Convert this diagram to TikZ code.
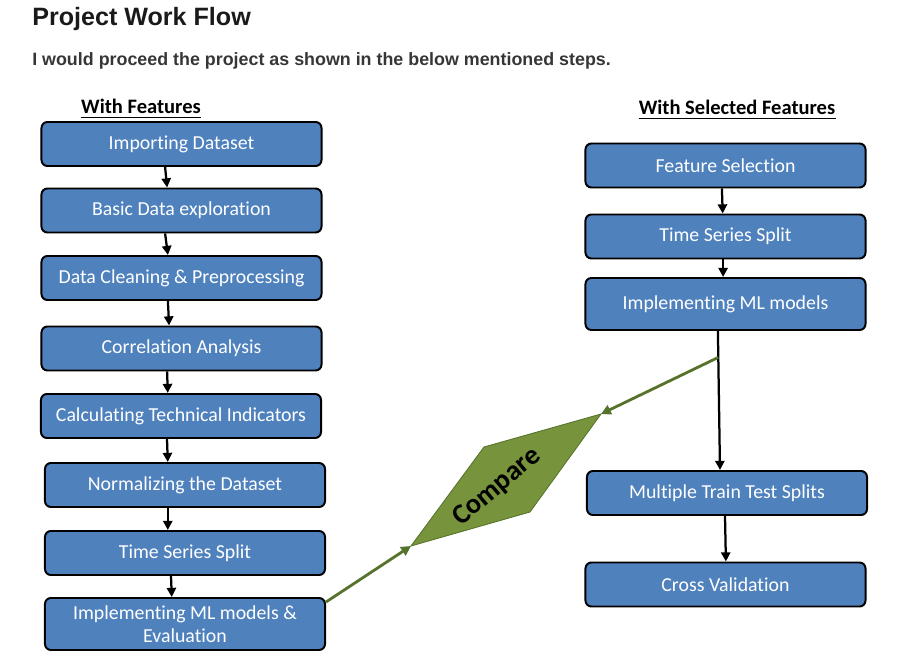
\documentclass[tikz,border=0pt]{standalone}
\usepackage{fontspec}
\usetikzlibrary{arrows.meta,calc}
\newfontfamily\boxfont{Carlito}[Ligatures=NoCommon]
\newfontfamily\headfont{Liberation Sans}
\definecolor{stepblue}{HTML}{4F81BD}
\definecolor{cmpgreen}{HTML}{77933C}
\definecolor{cmpline}{HTML}{56732B}
\definecolor{titlegray}{HTML}{1A1A1A}
\definecolor{subgray}{HTML}{363636}
\tikzset{
    stepbox/.style={draw=black,line width=1.4pt,rounded corners=0.15cm,fill=stepblue,
        text=white,font=\boxfont\fontsize{14.1}{16.7}\selectfont,align=center,
        minimum width=7cm,minimum height=1.1cm,inner sep=2pt},
    flow/.style={line width=1.6pt,-{Triangle[length=6.5pt,width=6.5pt]}},
    cmpflow/.style={line width=2pt,draw=cmpline,-{Triangle[length=7pt,width=7pt]},cmpline},
    colhead/.style={inner sep=0pt,anchor=base,font=\boxfont\bfseries\fontsize{14.6}{17}\selectfont}
}
\begin{document}
\begin{tikzpicture}[x=0.025cm,y=-0.025cm]
        \useasboundingbox (0,0) rectangle (902,661);
        %% heading
        \node[anchor=base west,inner sep=0pt,text=titlegray,font=\headfont\bfseries\fontsize{17.85}{20}\selectfont] (title) at (32,26) {Project Work Flow};
        \node[anchor=base west,inner sep=0pt,text=subgray,font=\headfont\bfseries\fontsize{12.7}{15}\selectfont] (intro) at (32,66) {I would proceed the project as shown in the below mentioned steps.};
        %% column heads
        \node[colhead] (hfeat) at (141,114) {With Features};
        \node[colhead] (hsel) at (737,115) {With Selected Features};
        \foreach \h in {hfeat,hsel}
            \draw[line width=1.1pt] ([yshift=-2.6pt]\h.base west) -- ([yshift=-2.6pt]\h.base east);
        %% left steps
        \node[stepbox] (imp) at (181.5,144) {Importing Dataset};
        \node[stepbox] (bde) at (181.5,210.5) {Basic Data exploration};
        \node[stepbox] (dcp) at (181.5,278) {Data Cleaning \& Preprocessing};
        \node[stepbox] (cor) at (181.5,348.5) {Correlation Analysis};
        \node[stepbox] (cti) at (181,416) {Calculating Technical Indicators};
        \node[stepbox] (nor) at (185,485) {Normalizing the Dataset};
        \node[stepbox] (tss) at (185,553) {Time Series Split};
        \node[stepbox,minimum height=1.3cm] (iml) at (185,624) {Implementing ML models \&\\Evaluation};
        \foreach \a/\b/\s/\t in {imp/bde/-0.41/-0.36,bde/dcp/-0.41/-0.34,dcp/cor/-0.34/-0.31,cor/cti/-0.36/-0.33,
                                 cti/nor/-0.35/-0.43,nor/tss/-0.43/-0.43,tss/iml/-0.35/-0.33} {
            \draw[flow] ([xshift=\s cm]\a.south) -- ([xshift=\t cm]\b.north);
        }
        %% right steps
        \node[stepbox] (fsel) at (725.5,165.5) {Feature Selection};
        \node[stepbox] (rtss) at (725.5,236.5) {Time Series Split};
        \node[stepbox,minimum height=1.3cm] (riml) at (725.5,304) {Implementing ML models};
        \node[stepbox] (mtt) at (727,493) {Multiple Train Test Splits};
        \node[stepbox] (cval) at (725.5,584.5) {Cross Validation};
        \foreach \a/\b/\s/\t in {fsel/rtss/-0.09/-0.07,rtss/riml/-0.06/-0.06,riml/mtt/-0.19/-0.175,mtt/cval/-0.05/0.01} {
            \draw[flow] ([xshift=\s cm]\a.south) -- ([xshift=\t cm]\b.north);
        }
        \coordinate (branch) at ($([xshift=-0.19cm]riml.south)!0.19!([xshift=-0.175cm]mtt.north)$);
        %% compare
        \coordinate (cmpL) at (411,546);
        \coordinate (cmpT) at (484,447);
        \coordinate (cmpR) at (601,414);
        \coordinate (cmpB) at (530,512);
        \draw[fill=cmpgreen,draw=cmpline,line width=0.6pt] (cmpL) -- (cmpT) -- (cmpR) -- (cmpB) -- cycle;
        \node[rotate=40,font=\boxfont\bfseries\fontsize{20}{24}\selectfont] (cmp) at (497,487) {Compare};
        \draw[cmpflow] ([yshift=0.55cm]iml.east) -- (cmpL);
        \draw[cmpflow] (branch) -- (cmpR);
    \end{tikzpicture}
\end{document}
